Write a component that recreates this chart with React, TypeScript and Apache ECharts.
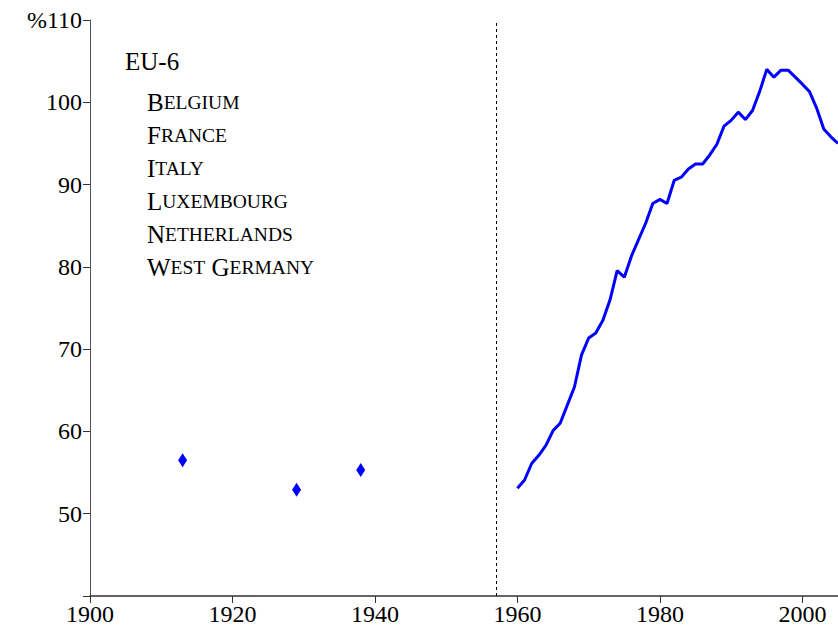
import React, { useEffect, useRef } from "react";
import * as echarts from "echarts";

const years: number[] = [
  1960, 1961, 1962, 1963, 1964, 1965, 1966, 1967, 1968, 1969,
  1970, 1971, 1972, 1973, 1974, 1975, 1976, 1977, 1978, 1979,
  1980, 1981, 1982, 1983, 1984, 1985, 1986, 1987, 1988, 1989,
  1990, 1991, 1992, 1993, 1994, 1995, 1996, 1997, 1998, 1999,
  2000, 2001, 2002, 2003, 2004, 2005,
];
const values: number[] = [
  53.1, 54.1, 56.1, 57.1, 58.3, 60.1, 61.0, 63.2, 65.4, 69.3,
  71.35, 71.95, 73.5, 76.0, 79.55, 78.75, 81.3, 83.3, 85.3, 87.7,
  88.2, 87.7, 90.5, 90.9, 91.9, 92.5, 92.5, 93.6, 94.9, 97.1,
  97.8, 98.8, 97.9, 99.0, 101.3, 104.0, 103.05, 103.9, 103.9, 103.05,
  102.2, 101.3, 99.3, 96.75, 95.8, 95.0,
];
const earlyYears: number[] = [1913, 1929, 1938];
const earlyValues: number[] = [56.5, 52.9, 55.3];
const treatyYear = 1957;
const xTicks: number[] = [1900, 1920, 1940, 1960, 1980, 2000];
const groupTitle = "EU-6";
const countries: string[] = [
  "Belgium",
  "France",
  "Italy",
  "Luxembourg",
  "Netherlands",
  "West Germany",
];

const FONT = "'Liberation Serif', 'DejaVu Serif', serif";

function smallCaps(name: string): string {
  return name
    .split(" ")
    .map((w) => `{c|${w[0].toUpperCase()}}{s|${w.slice(1).toUpperCase()}}`)
    .join("{c| }");
}

export default function App() {
  const ref = useRef<HTMLDivElement>(null);
  useEffect(() => {
    document.body.style.margin = "0";
    if (!ref.current) return;
    const chart = echarts.init(ref.current, undefined, { renderer: "svg" });
    const legendGraphics: any[] = [
      {
        type: "text",
        left: 125,
        top: 49,
        style: { text: groupTitle, font: `25px ${FONT}`, fill: "#000" },
      },
      ...countries.map((c, i) => ({
        type: "text",
        left: 147,
        top: 90 + i * 33,
        style: {
          text: smallCaps(c),
          fill: "#000",
          rich: {
            c: { fontSize: 25, fontFamily: FONT, color: "#000" },
            s: { fontSize: 19.5, fontFamily: FONT, color: "#000" },
          },
        },
      })),
    ];
    chart.setOption({
      animation: false,
      backgroundColor: "#fff",
      grid: { left: 90, right: 0, top: 20, bottom: 41, containLabel: false },
      xAxis: {
        type: "value",
        min: 1900,
        max: 2005,
        interval: 20,
        splitLine: { show: false },
        axisLine: { show: true, lineStyle: { color: "#333", width: 1.5 } },
        axisTick: {
          show: true,
          length: 7,
          customValues: xTicks,
          lineStyle: { color: "#333", width: 1 },
        },
        axisLabel: {
          customValues: xTicks,
          fontFamily: FONT,
          fontSize: 24,
          color: "#000",
          margin: 6,
          formatter: (v: number) => String(v),
        },
      },
      yAxis: {
        type: "value",
        min: 40,
        max: 110,
        interval: 10,
        splitLine: { show: false },
        axisLine: { show: true, onZero: false, lineStyle: { color: "#555", width: 1 } },
        axisTick: { show: true, length: 7, lineStyle: { color: "#333", width: 1 } },
        axisLabel: {
          fontFamily: FONT,
          fontSize: 24,
          color: "#000",
          margin: 8,
          formatter: (v: number) => (v === 40 ? "" : v === 110 ? "%110" : String(v)),
        },
      },
      graphic: legendGraphics,
      series: [
        {
          type: "line",
          data: years.map((y, i) => [y, values[i]]),
          showSymbol: false,
          symbol: "none",
          lineStyle: { color: "#0000ff", width: 3 },
          itemStyle: { color: "#0000ff" },
          clip: true,
          markLine: {
            silent: true,
            symbol: ["none", "none"],
            label: { show: false },
            lineStyle: { color: "#000", type: [3, 3], width: 1 },
            data: [{ xAxis: treatyYear }],
          },
        },
        {
          type: "scatter",
          data: earlyYears.map((y, i) => [y, earlyValues[i]]),
          symbol: "diamond",
          symbolSize: [9, 14],
          itemStyle: { color: "#0000ff", opacity: 1 },
        },
      ],
    });
    return () => chart.dispose();
  }, []);
  return <div ref={ref} style={{ width: 838, height: 637 }} />;
}
